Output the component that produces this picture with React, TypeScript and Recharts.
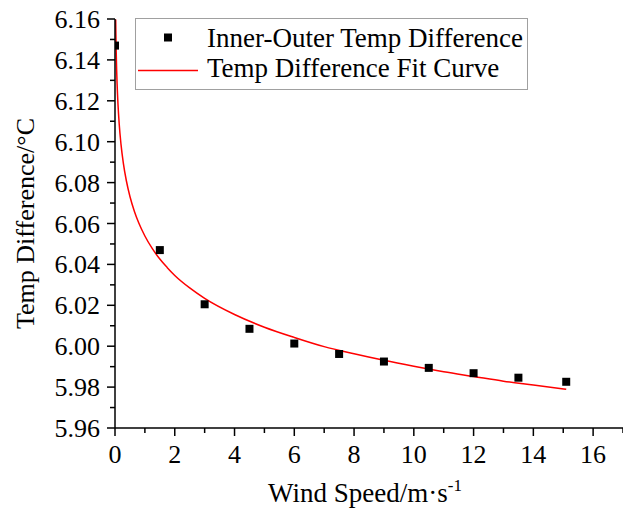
import React from 'react';
import { ComposedChart, Scatter, Line, XAxis, YAxis, Legend } from 'recharts';

const windSpeed = [0, 1.5, 3, 4.5, 6, 7.5, 9, 10.5, 12, 13.5, 15.1];
const tempDiff = [6.147, 6.047, 6.0205, 6.0085, 6.0013, 5.9962, 5.9925, 5.9894, 5.9868, 5.9846, 5.9826];

const fitSpeed = [0.023, 0.03, 0.04, 0.055, 0.07, 0.1, 0.14, 0.2, 0.28, 0.38, 0.5, 0.65, 0.8, 1, 1.25, 1.5, 1.75, 2, 2.5, 3, 4, 5, 6, 7, 8, 9, 10, 11, 12, 13, 14, 15.1];
const fitTemp = [6.1597, 6.1522, 6.1441, 6.1351, 6.1283, 6.1183, 6.1088, 6.0988, 6.0894, 6.0809, 6.0732, 6.0659, 6.0601, 6.0539, 6.0477, 6.0426, 6.0384, 6.0346, 6.0285, 6.0234, 6.0155, 6.0093, 6.0043, 5.9998, 5.9963, 5.9931, 5.9902, 5.9875, 5.9852, 5.9829, 5.981, 5.9789];

const xMajorTicks = [0, 2, 4, 6, 8, 10, 12, 14, 16];
const xMinorTicks = [1, 3, 5, 7, 9, 11, 13, 15, 17];
const yMajorTicks = [5.96, 5.98, 6.0, 6.02, 6.04, 6.06, 6.08, 6.1, 6.12, 6.14, 6.16];
const yMinorTicks = [5.97, 5.99, 6.01, 6.03, 6.05, 6.07, 6.09, 6.11, 6.13, 6.15];

const seriesNames = ['Inner-Outer Temp Difference', 'Temp Difference Fit Curve'];
const xTitle = 'Wind Speed/m·s';
const xTitleSup = '-1';
const yTitle = 'Temp Difference/°C';

const measured = windSpeed.map((x, i) => ({ x, y: tempDiff[i] }));
const fit = fitSpeed.map((x, i) => ({ x, y: fitTemp[i] }));
const xAllTicks = [...xMajorTicks, ...xMinorTicks].sort((a, b) => a - b);
const yAllTicks = [...yMajorTicks, ...yMinorTicks].sort((a, b) => a - b);

const FONT = "'Liberation Serif', 'Times New Roman', Times, serif";
const textStyle = { fontFamily: FONT };

const isMajor = (list: number[], v: number) => list.some((t) => Math.abs(t - v) < 1e-9);

const XTick = (props: any) => {
  const { x, y, payload } = props;
  const major = isMajor(xMajorTicks, payload.value);
  return (
    <g>
      <line x1={x} x2={x} y1={y} y2={y + (major ? 8 : 5)} stroke="#000" strokeWidth={1.5} />
      {major && (
        <text x={x} y={y + 35} textAnchor="middle" fontSize={26} fill="#000" style={textStyle}>
          {String(payload.value)}
        </text>
      )}
    </g>
  );
};

const YTick = (props: any) => {
  const { x, y, payload } = props;
  const major = isMajor(yMajorTicks, payload.value);
  return (
    <g>
      <line x1={x - (major ? 8 : 5)} x2={x} y1={y} y2={y} stroke="#000" strokeWidth={1.5} />
      {major && (
        <text x={x - 15} y={y + 9} textAnchor="end" fontSize={26} fill="#000" style={textStyle}>
          {payload.value.toFixed(2)}
        </text>
      )}
    </g>
  );
};

const XTitle = (props: any) => {
  const vb = props.viewBox || { x: 0, y: 0, width: 0 };
  return (
    <text x={vb.x + vb.width / 2 - 4} y={vb.y + 74} textAnchor="middle" fontSize={27} fill="#000" style={textStyle}>
      {xTitle}
      <tspan dy={-11} fontSize={17}>{xTitleSup}</tspan>
    </text>
  );
};

const YTitle = (props: any) => {
  const vb = props.viewBox || { x: 0, y: 0, height: 0 };
  const cx = 34;
  const cy = vb.y + vb.height / 2;
  return (
    <text x={cx} y={cy} textAnchor="middle" fontSize={26} fill="#000" style={textStyle} transform={`rotate(-90, ${cx}, ${cy})`}>
      {yTitle}
    </text>
  );
};

const LegendBox = () => (
  <svg width={393} height={72} style={{ display: 'block' }}>
    <rect x={0.5} y={0.5} width={392} height={71} fill="#fff" stroke="#a0a0a0" strokeWidth={1} />
    <rect x={29} y={15.5} width={8} height={8} fill="#000" />
    <text x={72} y={29} fontSize={27} fill="#000" style={textStyle}>{seriesNames[0]}</text>
    <line x1={3} x2={63} y1={52.5} y2={52.5} stroke="#ff0000" strokeWidth={1.5} />
    <text x={72} y={59} fontSize={27} fill="#000" style={textStyle}>{seriesNames[1]}</text>
  </svg>
);

export default function App() {
  return (
    <div style={{ position: 'absolute', left: 0, top: 0, background: '#fff' }}>
      <ComposedChart width={623} height={510} margin={{ top: 19, right: 0, left: 40, bottom: 37 }}>
        <XAxis
          type="number"
          dataKey="x"
          domain={[0, 17]}
          ticks={xAllTicks}
          interval={0}
          tickSize={0}
          tickMargin={0}
          tickLine={false}
          axisLine={{ stroke: '#000', strokeWidth: 1.5 }}
          tick={<XTick />}
          height={45}
          allowDataOverflow
          label={{ content: XTitle }}
        />
        <YAxis
          type="number"
          domain={[5.96, 6.16]}
          ticks={yAllTicks}
          interval={0}
          tickSize={0}
          tickMargin={0}
          tickLine={false}
          axisLine={{ stroke: '#000', strokeWidth: 1.5 }}
          tick={<YTick />}
          width={75}
          allowDataOverflow
          label={{ content: YTitle }}
        />
        <Legend
          layout="vertical"
          align="center"
          verticalAlign="middle"
          wrapperStyle={{ left: 135, top: 18, width: 393 }}
          content={() => <LegendBox />}
        />
        <Scatter data={measured} dataKey="y" fill="#000" shape="square" isAnimationActive={false} />
        <Line data={fit} dataKey="y" type="monotone" stroke="#ff0000" strokeWidth={1.5} dot={false} isAnimationActive={false} />
      </ComposedChart>
    </div>
  );
}
